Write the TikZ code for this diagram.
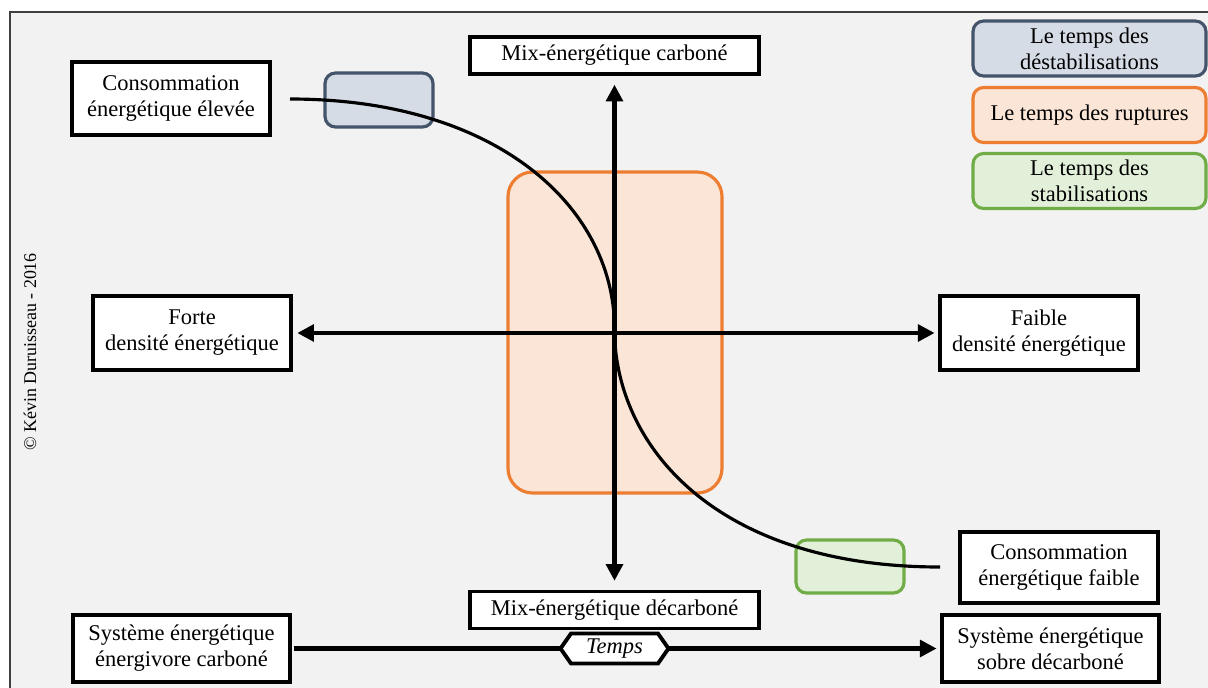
\documentclass[tikz,border=0pt]{standalone}
\usepackage{fontspec}
\setmainfont{Liberation Serif}
\usetikzlibrary{arrows.meta,shapes.symbols}

\definecolor{panelgray}{HTML}{F2F2F2}
\definecolor{destabfill}{HTML}{D6DCE5}
\definecolor{destabline}{HTML}{44546A}
\definecolor{rupturefill}{HTML}{FBE5D6}
\definecolor{ruptureline}{HTML}{ED7D31}
\definecolor{stabfill}{HTML}{E2F0D9}
\definecolor{stabline}{HTML}{70AD47}

\begin{document}
\begin{tikzpicture}[x=0.02cm, y=-0.02cm,
		every node/.style={font=\fontsize{12.8}{14.8}\selectfont, align=center, inner sep=0pt},
		labelbox/.style={draw=black, fill=white, line width=2.2pt, minimum width=3.96cm, minimum height=1.46cm},
		legendbox/.style={rounded corners=10pt*0.6, line width=1.8pt, minimum width=4.66cm, minimum height=1.1cm},
		axis/.style={line width=2.3pt, -{Triangle[length=9.5pt,width=9.5pt]}},
		phase/.style={rounded corners=6pt, line width=1.8pt}]
	% fond
	\fill[white] (0,0) rectangle (1208,687);
	\useasboundingbox (0,0) rectangle (1208,687);
	\draw[draw=black!75, fill=panelgray, line width=0.7pt] (10,12) rectangle (1220,700);
	\node[rotate=90, font=\fontsize{10.2}{12}\selectfont] (copy) at (30,352) {© Kévin Duruisseau - 2016};

	% phases
	\draw[phase, rounded corners=14pt, draw=ruptureline, fill=rupturefill] (508,172) rectangle (722,493);
	\draw[phase, draw=destabline, fill=destabfill] (325,73) rectangle (433,127);
	\draw[phase, draw=stabline, fill=stabfill] (796,540) rectangle (904,593);

	% noeuds
	\node[labelbox] (elevee) at (171,98.5) {Consommation\\énergétique élevée};
	\node[labelbox, minimum width=5.78cm, minimum height=0.74cm] (carb) at (614.5,55.5) {Mix-énergétique carboné};
	\node[labelbox, minimum width=5.78cm, minimum height=0.74cm] (decarb) at (614.5,610) {Mix-énergétique décarboné};
	\node[labelbox, minimum height=1.48cm] (forte) at (192,333) {Forte\\densité énergétique};
	\node[labelbox, minimum height=1.48cm] (faible) at (1039,333) {Faible\\densité énergétique};
	\node[labelbox, minimum height=1.42cm] (faiblecons) at (1059,567.5) {Consommation\\énergétique faible};
	\node[labelbox, minimum width=4.34cm, minimum height=1.34cm] (sysA) at (181.5,648.5) {Système énergétique\\énergivore carboné};
	\node[labelbox, minimum width=4.34cm, minimum height=1.34cm] (sysB) at (1050.5,648.5) {Système énergétique\\sobre décarboné};

	% legende
	\node[legendbox, draw=destabline, fill=destabfill] (leg1) at (1089.5,48.5) {Le temps des\\déstabilisations};
	\node[legendbox, draw=ruptureline, fill=rupturefill] (leg2) at (1089.5,115) {Le temps des ruptures};
	\node[legendbox, draw=stabline, fill=stabfill] (leg3) at (1089.5,181) {Le temps des\\stabilisations};

	% courbe
	\coordinate (o) at (carb |- forte);
	\coordinate (c0) at (290,99);
	\coordinate (c2) at (940,567);
	\draw[line width=1.8pt] (c0) .. controls (500,99) and (617,210) .. (o)
		.. controls (617,450) and (720,567) .. (c2);

	% axes
	\draw[axis, {Triangle[length=9.5pt,width=9.5pt]}-{Triangle[length=9.5pt,width=9.5pt]}, shorten <=5pt, shorten >=5pt] (carb) -- (decarb);
	\draw[axis, {Triangle[length=9.5pt,width=9.5pt]}-{Triangle[length=9.5pt,width=9.5pt]}, shorten <=2.5pt, shorten >=2pt] (forte) -- (faible);
	\draw[axis, shorten <=1pt, shorten >=2pt] (sysA) -- (sysB);
	\node[draw=black, fill=white, line width=2.2pt, signal, signal to=west and east, signal pointer angle=110,
		minimum width=2.16cm, minimum height=0.6cm, font=\fontsize{12.8}{14.8}\selectfont\itshape] (temps) at (decarb |- sysA) {Temps};
\end{tikzpicture}
\end{document}
